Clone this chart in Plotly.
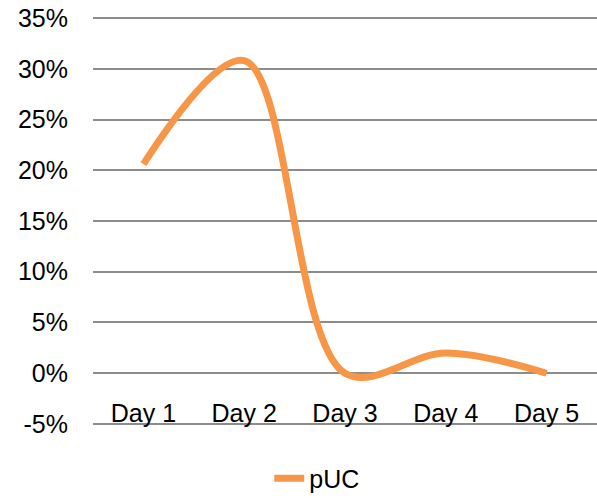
import plotly.graph_objects as go

categories = ["Day 1", "Day 2", "Day 3", "Day 4", "Day 5"]
puc_values = [0.206, 0.308, 0.0, 0.020, 0.0]
y_tick_vals = [-0.05, 0, 0.05, 0.10, 0.15, 0.20, 0.25, 0.30, 0.35]
y_tick_text = ["-5%", "0%", "5%", "10%", "15%", "20%", "25%", "30%", "35%"]

FONT = "Helvetica Neue, Liberation Sans, Arial, sans-serif"

fig = go.Figure()
fig.add_trace(go.Scatter(
    x=categories, y=puc_values, mode="lines", name="pUC",
    line=dict(color="#F79646", width=7, shape="spline", smoothing=1.0),
))

fig.update_layout(
    width=597, height=498,
    margin=dict(l=93, r=0, t=16, b=72, autoexpand=False),
    plot_bgcolor="white", paper_bgcolor="white",
    font=dict(family=FONT, size=25, color="#000000"),
    showlegend=True,
    legend=dict(orientation="h", x=0.445, xanchor="center", y=-0.072, yanchor="top",
                font=dict(size=25)),
    xaxis=dict(
        type="category", range=[-0.5, 4.5], showgrid=False, zeroline=False, showline=False,
        anchor="free", position=0.052 / 0.404, ticks="", ticklabelstandoff=23,
        tickfont=dict(size=25), automargin=False,
    ),
    yaxis=dict(
        range=[-0.052, 0.352], tickvals=y_tick_vals, ticktext=y_tick_text,
        showgrid=True, gridcolor="#8C8C8C", gridwidth=2,
        zeroline=False, showline=False, ticks="", ticklabelstandoff=24,
        tickfont=dict(size=25), automargin=False,
    ),
)

fig.write_html("out.html", config={"displayModeBar": False},
               post_script="document.body.style.margin='0';document.body.style.overflow='hidden';")
